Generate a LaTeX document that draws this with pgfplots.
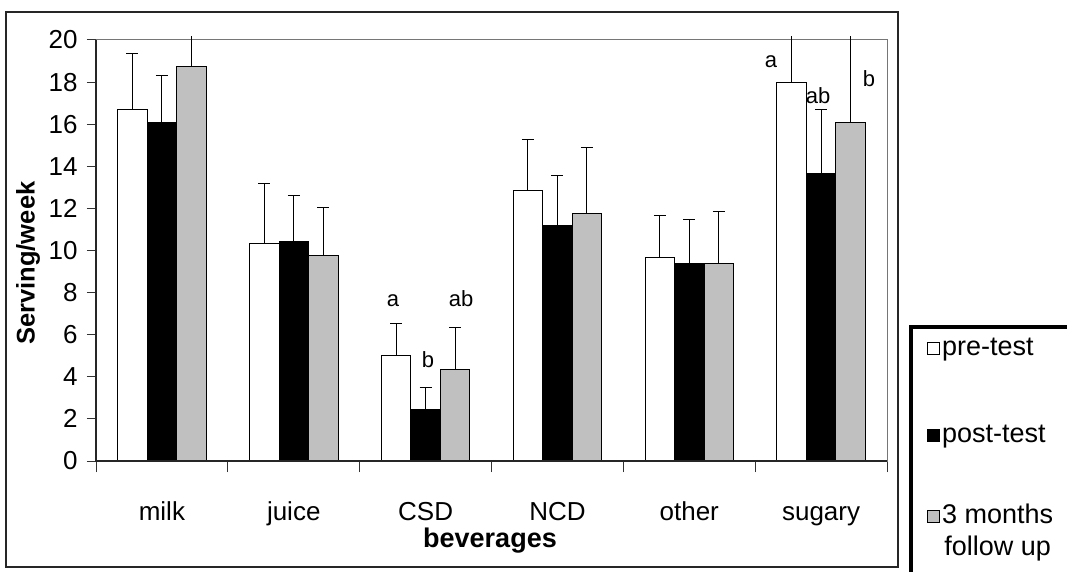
\documentclass[border=0pt]{standalone}
\usepackage{fontspec}
\setmainfont{Liberation Sans}
\usepackage{pgfplots}
\pgfplotsset{compat=1.18}

\definecolor{barGray}{RGB}{192,192,192}
\definecolor{frameGray}{RGB}{118,118,118}

\newcommand{\lblfont}{\fontsize{26bp}{30bp}\selectfont}
\newcommand{\sigfont}{\fontsize{22bp}{26bp}\selectfont}

% serving/week per beverage group: value and upper error
\pgfplotstableread{
x  y     e
0  16.7  2.65
1  10.32 2.84
2  5.0   1.52
3  12.87 2.38
4  9.66  1.98
5  18.0  0
}\pretest
\pgfplotstableread{
x  y     e
0  16.1  2.19
1  10.42 2.18
2  2.47  1.01
3  11.18 2.37
4  9.39  2.06
5  13.67 3.02
}\posttest
\pgfplotstableread{
x  y     e
0  18.76 0
1  9.74  2.29
2  4.34  1.99
3  11.75 3.13
4  9.39  2.45
5  16.09 0
}\followup

\begin{document}
\begin{tikzpicture}
\useasboundingbox (0,0) rectangle (1067bp,572bp);
\fill[white] (0,0) rectangle (1067bp,572bp);
% chart frame
\draw[line width=1.5bp, black!85] (6bp,5bp) rectangle (898bp,560bp);
% legend frame (runs off the page at right and bottom)
\draw[line width=4bp, black] (911bp,-20bp) -- (911bp,245bp) -- (1090bp,245bp);
\begin{axis}[
  at={(96bp,111bp)}, anchor=south west,
  width=791bp, height=421bp, scale only axis,
  xmin=-0.5, xmax=5.5, ymin=0, ymax=20,
  clip=false,
  ybar, bar width=29.5bp,
  axis line style={draw=frameGray, line width=1bp},
  tick pos=left, tick align=outside,
  ytick={0,2,...,20},
  xtick={0,...,5},
  xticklabels={milk,juice,CSD,NCD,other,sugary},
  minor xtick={-0.5,0.5,...,5.5},
  major tick length=9bp, minor tick length=11bp,
  every tick/.style={black!80, line width=1bp},
  major x tick style={draw=none},
  /pgf/number format/assume math mode=true,
  ticklabel style={font=\lblfont},
  yticklabel style={xshift=-6bp},
  xticklabel style={anchor=base, yshift=-50bp},
  xlabel={beverages},
  xlabel style={font=\fontsize{27bp}{30bp}\selectfont\bfseries,
    at={(rel axis cs:0.5,0)}, anchor=base, yshift=-86bp, xshift=-1.5bp},
  ylabel={Serving/week},
  ylabel style={font=\fontsize{25.5bp}{30bp}\selectfont\bfseries,
    at={(rel axis cs:-0.086,0.47)}, anchor=center, rotate=0},
  legend image code/.code={\draw[#1, line width=1bp] (0bp,1bp) rectangle (12bp,13bp);},
  legend style={at={(rel axis cs:1.0303,0.3183)}, anchor=north west,
    draw=none, fill=none,
    font=\fontsize{27bp}{27bp}\selectfont,
    cells={anchor=base west},
    nodes={inner sep=2bp, anchor=base west},
    row sep=64bp, inner xsep=16bp, inner ysep=9bp},
  error bars/error bar style={black, line width=1bp},
  error bars/error mark options={rotate=90, black, line width=1bp, mark size=6bp},
]
\addplot[bar shift=-29.5bp, fill=white, draw=black, line width=1bp,
  error bars/.cd, y dir=plus, y explicit]
  table[x=x, y=y, y error=e] {\pretest};
\addlegendentry{pre-test}
\addplot[bar shift=0bp, fill=black, draw=black, line width=1bp,
  error bars/.cd, y dir=plus, y explicit]
  table[x=x, y=y, y error=e] {\posttest};
\addlegendentry{post-test}
\addplot[bar shift=29.5bp, fill=barGray, draw=black, line width=1bp,
  error bars/.cd, y dir=plus, y explicit]
  table[x=x, y=y, y error=e] {\followup};
\addlegendentry{\raisebox{0pt}[8bp]{\begin{tabular}[t]{@{}c@{}}3 months\\[4bp]follow up\end{tabular}}}

% error bars running past the top of the plot area, drawn without caps
\addplot[bar shift=-29.5bp, draw=none, fill=none, forget plot,
  error bars/.cd, y dir=plus, y explicit, error mark=none,
  error bar style={draw=black, line width=1bp}]
  coordinates {(5,18.0) +- (0,2.2)};
\addplot[bar shift=29.5bp, draw=none, fill=none, forget plot,
  error bars/.cd, y dir=plus, y explicit, error mark=none,
  error bar style={draw=black, line width=1bp}]
  coordinates {(0,18.76) +- (0,1.44) (5,16.09) +- (0,4.11)};

% left and bottom axis lines in black
\draw[black!85, line width=1.3bp] (rel axis cs:0,1) -- (rel axis cs:0,0) -- (rel axis cs:1,0);

% significance letters
\node[font=\sigfont, anchor=base] at (axis cs:1.753,7.32) {a};
\node[font=\sigfont, anchor=base] at (axis cs:2.018,4.42) {b};
\node[font=\sigfont, anchor=base] at (axis cs:2.27,7.32) {ab};
\node[font=\sigfont, anchor=base] at (axis cs:4.62,18.67) {a};
\node[font=\sigfont, anchor=base] at (axis cs:4.977,17.0) {ab};
\node[font=\sigfont, anchor=base] at (axis cs:5.363,17.77) {b};
\end{axis}
\end{tikzpicture}
\end{document}
